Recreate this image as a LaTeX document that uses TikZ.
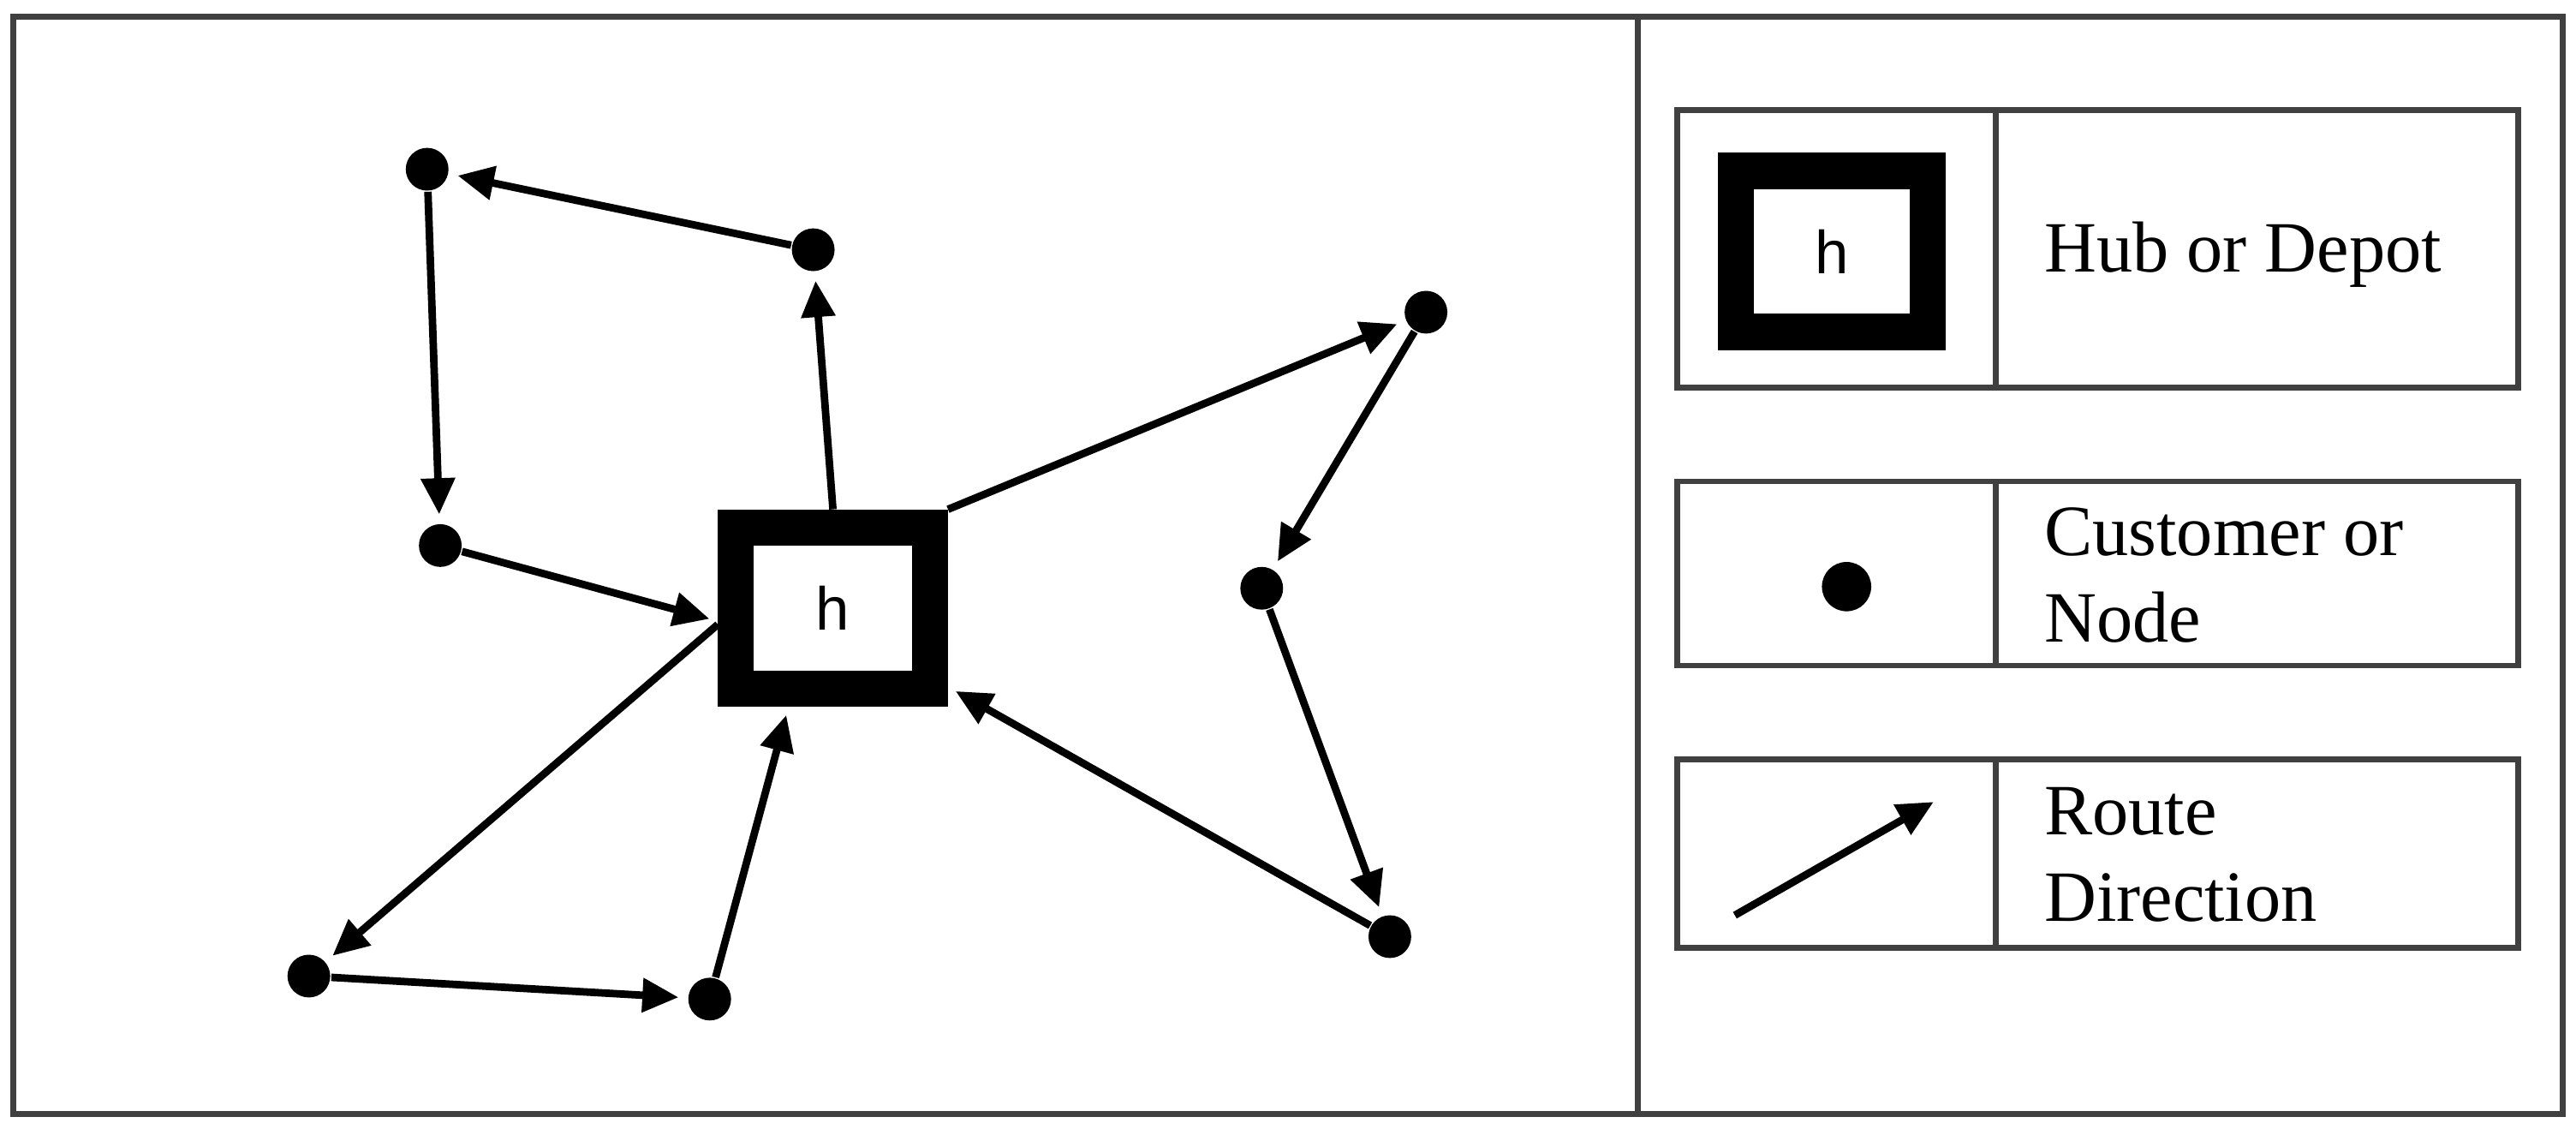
\documentclass[tikz,border=0pt]{standalone}
\usepackage{fontspec}
\setmainfont{Liberation Serif}
\newfontfamily\hfont{Liberation Sans}
\usetikzlibrary{arrows.meta}
\begin{document}
\begin{tikzpicture}[x=0.01cm,y=-0.01cm,
  dot/.style={circle,fill=black,inner sep=0,minimum size=0.26cm},
  hubbox/.style={draw=black,line width=0.22cm,fill=white,minimum width=1.18cm,minimum height=0.98cm,inner sep=0,font=\hfont\fontsize{10.5}{12}\selectfont},
  route/.style={line width=1.3pt,-{Triangle[length=0.22cm,width=0.2cm]},shorten >=1.5pt},
  frame/.style={draw=black!75,line width=1pt},
  lbl/.style={anchor=west,align=left,font=\fontsize{12.5}{15}\selectfont}]
\useasboundingbox (0,0) rectangle (1568,683);
\draw[frame] (8,10) rectangle (1560,678);
\draw[frame] (997,10) -- (997,678);
% main nodes
\node[hubbox] (hub) at (507,370) {h};
\node[dot] (a) at (260,103) {};
\node[dot] (b) at (495,152) {};
\node[dot] (c) at (268,332) {};
\node[dot] (d) at (868,190) {};
\node[dot] (e) at (768,358) {};
\node[dot] (f) at (846,570) {};
\node[dot] (g) at (188,594) {};
\node[dot] (i) at (432,608) {};
\draw[route] (hub.north) -- (b);
\draw[route] (b) -- (a);
\draw[route] (a) -- (c);
\draw[route] (c) -- ([yshift=-0.08cm]hub.west);
\draw[route] (hub.north east) -- (d);
\draw[route] (d) -- (e);
\draw[route] (e) -- (f);
\draw[route] (f) -- ([yshift=-0.48cm]hub.east);
\draw[route] ([yshift=-0.1cm]hub.west) -- (g);
\draw[route] (g) -- (i);
\draw[route] (i) -- ([xshift=-0.27cm]hub.south);
% legend
\draw[frame] (1021,67) rectangle (1533,236) (1215,67) -- (1215,236);
\draw[frame] (1021,293) rectangle (1533,405) (1215,293) -- (1215,405);
\draw[frame] (1021,462) rectangle (1533,577) (1215,462) -- (1215,577);
\node[hubbox,minimum width=1.17cm,minimum height=0.98cm] (lhub) at (1115,153) {h};
\node[dot,minimum size=0.3cm] (ldot) at (1124,357) {};
\coordinate (la1) at (1056,557);
\coordinate (la2) at (1177,488);
\draw[route,shorten >=0pt] (la1) -- (la2);
\node[lbl] (t1) at (1232,155) {Hub or Depot};
\node[lbl] (t2) at (1232,350) {Customer or\\Node};
\node[lbl] (t3) at (1232,520) {Route\\Direction};
\end{tikzpicture}
\end{document}
